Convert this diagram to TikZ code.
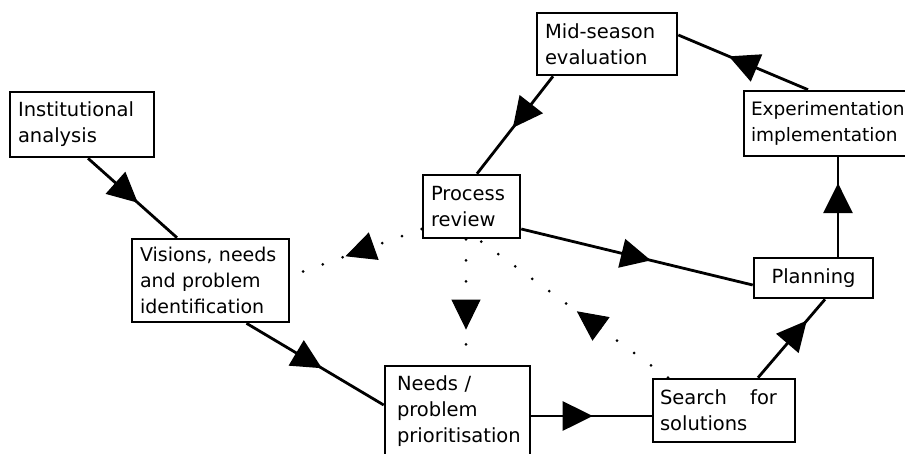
\documentclass[tikz,border=0pt]{standalone}
\usepackage{fontspec}
\setmainfont{DejaVu Sans}
\usetikzlibrary{arrows.meta,decorations.markings,calc}
\hyphenpenalty=10000
\exhyphenpenalty=10000
\tikzset{
  box/.style={draw=black, line width=2.6pt, fill=white, rectangle, inner ysep=0pt,
    font=\fontsize{19.5}{26}\selectfont, align=left},
  conn/.style={line width=2.8pt, postaction={decorate},
    decoration={markings, mark=at position #1 with {\arrow{Triangle[length=30pt,width=29pt]}}}},
  dotconn/.style={line width=3pt, line cap=round, dash pattern=on 0pt off 21pt,
    postaction={decorate},
    decoration={markings, mark=at position #1 with {\arrow[solid,line width=1pt]{Triangle[length=30pt,width=29pt]}}}}
}
\begin{document}
\begin{tikzpicture}[x=1pt,y=-1pt]
\useasboundingbox (0,0) rectangle (905,453);
% boxes
\node[box, inner xsep=8pt, text width=128pt, minimum height=65pt] (inst) at (82,124.5) {Institutional\\analysis};
\node[box, inner xsep=8pt, text width=141pt, minimum height=83pt, font=\fontsize{19}{26}\selectfont] (vis) at (210.5,280.5) {\mbox{Visions, needs}\\\mbox{and problem}\\identification};
\node[box, inner xsep=8pt, text width=124pt, minimum height=62pt] (mid) at (607,44) {Mid-season\\evaluation};
\node[box, inner xsep=7pt, text width=152pt, minimum height=65pt, font=\fontsize{18.5}{26}\selectfont] (exp) at (827,123.5) {Experimentation\\implementation};
\node[box, inner xsep=8pt, text width=81pt, minimum height=63pt] (proc) at (471.5,206.5) {Process\\review};
\node[box, align=center, inner xsep=0pt, text width=119pt, minimum height=40pt] (plan) at (813.5,278) {Planning};
\node[box, inner xsep=12pt, text width=121pt, minimum height=90pt] (needs) at (457.5,411) {Needs /\\problem\\prioritisation};
\node[box, inner xsep=7pt, text width=128pt, minimum height=63pt] (search) at (724,410.5) {\makebox[117pt][l]{Search\hfill for}\\solutions};
% solid connectors
\draw[conn=0.56] ([xshift=6pt]inst.south) -- ([xshift=-33.5pt]vis.north);
\draw[conn=0.55] ([xshift=36pt]vis.south) -- ([yshift=6pt]needs.west);
\draw[conn=0.51] ([yshift=-5pt]needs.east) -- ([yshift=-5pt]needs.east -| search.west);
\draw[conn=0.73] ([xshift=34pt]search.north) -- ([xshift=11.5pt]plan.south);
\draw[conn=0.74] ([xshift=24.5pt]plan.north) -- ([xshift=24.5pt]plan.north |- exp.south);
\draw[conn=0.61] ([xshift=-19pt]exp.north) -- ([yshift=9pt]mid.east);
\draw[conn=0.53] ([xshift=-54pt]mid.south) -- ([xshift=5.5pt]proc.north);
\draw[conn=0.56] ([yshift=-22.5pt]proc.east) -- ([yshift=-7pt]plan.west);
% dotted connectors
\draw[dotconn=0.58] ([yshift=-22.5pt]proc.west) -- ([yshift=4.5pt]vis.east);
\draw[dotconn=0.72] ([xshift=-5.5pt]proc.south) -- ([xshift=-5.5pt]proc.south |- needs.north);
\draw[dotconn=0.48] ([xshift=-56pt]search.north) -- ([xshift=6.5pt]proc.south);
\end{tikzpicture}
\end{document}
